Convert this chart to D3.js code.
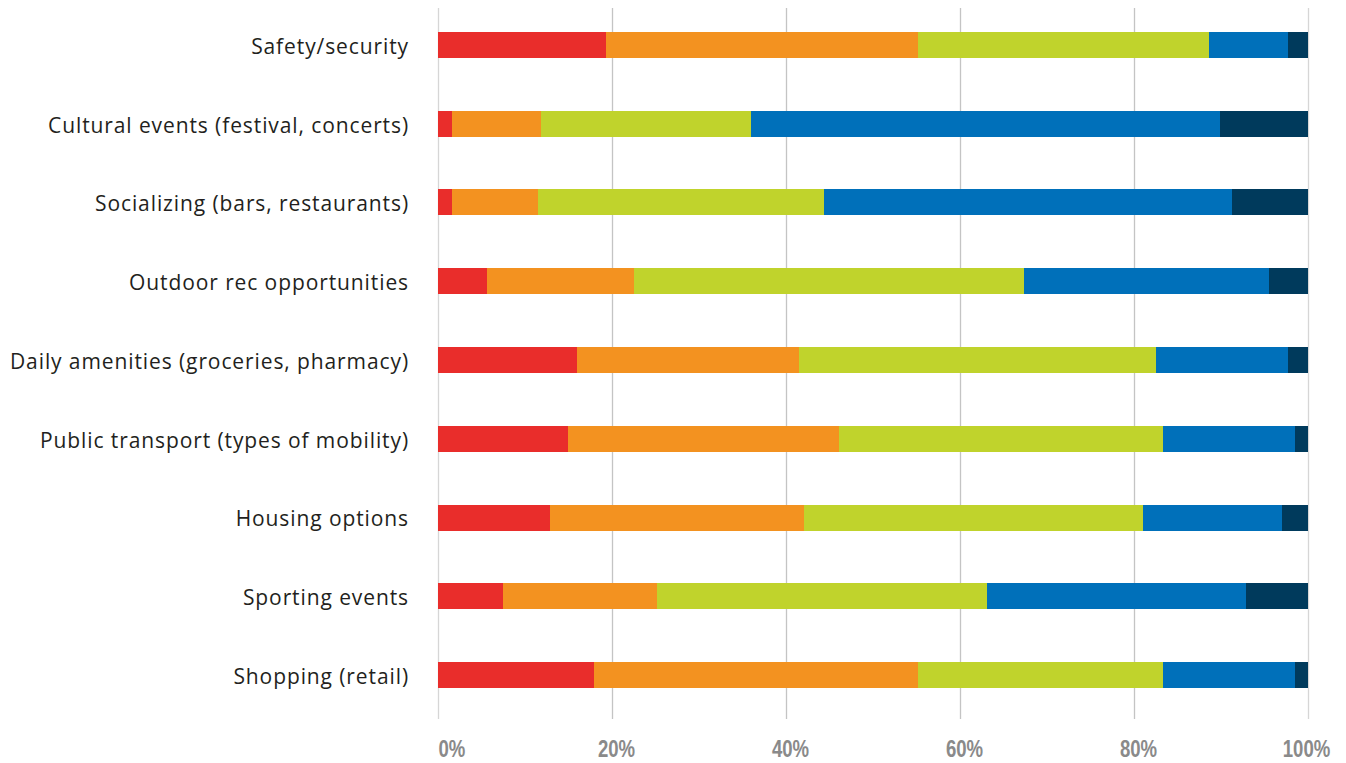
<!DOCTYPE html>
<html>
<head>
<meta charset="utf-8">
<script src="https://cdn.jsdelivr.net/npm/d3@7"></script>
<style>
  html, body { margin: 0; padding: 0; background: #ffffff; }
  svg { display: block; }
</style>
</head>
<body>
<svg id="chart" width="1346" height="763"></svg>
<script>
// Amenity ratings, share of responses per rating level (percent)
const categories = [
  "Safety/security",
  "Cultural events (festival, concerts)",
  "Socializing (bars, restaurants)",
  "Outdoor rec opportunities",
  "Daily amenities (groceries, pharmacy)",
  "Public transport (types of mobility)",
  "Housing options",
  "Sporting events",
  "Shopping (retail)"
];
const seriesNames = ["Very poor", "Poor", "Fair", "Good", "Excellent"];
const veryPoor  = [19.3,  1.6,  1.6,  5.6, 16.0, 14.9, 12.9,  7.5, 17.9];
const poor      = [35.9, 10.2,  9.9, 16.9, 25.5, 31.2, 29.2, 17.7, 37.3];
const fair      = [33.4, 24.2, 32.9, 44.9, 41.0, 37.2, 38.9, 37.9, 28.1];
const good      = [ 9.1, 53.9, 46.9, 28.1, 15.2, 15.2, 16.0, 29.8, 15.2];
const excellent = [ 2.3, 10.1,  8.7,  4.5,  2.3,  1.5,  3.0,  7.1,  1.5];
const tickValues = [0, 20, 40, 60, 80, 100];
const colors = ["#e92d2b", "#f39220", "#c0d32c", "#0070ba", "#003a5c"];

const rows = categories.map((c, i) => ({
  category: c,
  "Very poor": veryPoor[i],
  "Poor": poor[i],
  "Fair": fair[i],
  "Good": good[i],
  "Excellent": excellent[i]
}));

const svg = d3.select("#chart");
const gridTop = 8, gridBottom = 719;

const x = d3.scaleLinear().domain([0, 100]).range([438, 1308]);
const y = d3.scaleBand()
  .domain(categories)
  .range([5.6, 714.4])
  .paddingInner(0.67)
  .paddingOuter(0.335);
const color = d3.scaleOrdinal().domain(seriesNames).range(colors);

// Vertical gridlines + percentage labels
const axis = d3.axisBottom(x)
  .tickValues(tickValues)
  .tickSize(-(gridBottom - gridTop))
  .tickPadding(21)
  .tickFormat(d => d + "%");

const gx = svg.append("g")
  .attr("transform", `translate(0,${gridBottom})`)
  .call(axis);
gx.select(".domain").remove();
gx.selectAll(".tick line")
  .attr("stroke", d => (d === 0 || d === 100) ? "#d6d6d6" : "#c4c4c4")
  .attr("stroke-width", 1.3);
// condensed look: horizontally squeezed bold sans
const sx = 0.79;
gx.selectAll(".tick text")
  .attr("fill", "#8a8a8a")
  .style("font-family", "'Liberation Sans', Arial, sans-serif")
  .style("font-weight", "bold")
  .style("font-size", "23.5px")
  .attr("text-anchor", d => d === 0 ? "start" : "middle")
  .attr("x", d => (d === 0 ? 0 : (d === 100 ? -2 : 4)) / sx)
  .attr("transform", `scale(${sx},1)`);

// Stacked bars
const stack = d3.stack().keys(seriesNames);
const layers = stack(rows);

svg.append("g")
  .selectAll("g")
  .data(layers)
  .join("g")
  .attr("fill", d => color(d.key))
  .selectAll("rect")
  .data(d => d)
  .join("rect")
  .attr("x", d => x(d[0]))
  .attr("y", d => y(d.data.category))
  .attr("width", d => x(d[1]) - x(d[0]))
  .attr("height", y.bandwidth())
  .attr("shape-rendering", "crispEdges");

// Category labels
svg.append("g")
  .selectAll("text")
  .data(categories)
  .join("text")
  .attr("x", 409)
  .attr("y", d => y(d) + y.bandwidth() / 2)
  .attr("dy", "0.42em")
  .attr("text-anchor", "end")
  .attr("fill", "#231f20")
  .style("font-family", "'Open Sans', 'Noto Sans', sans-serif")
  .style("font-size", "21px")
  .style("letter-spacing", "0.9px")
  .text(d => d);
</script>
</body>
</html>
